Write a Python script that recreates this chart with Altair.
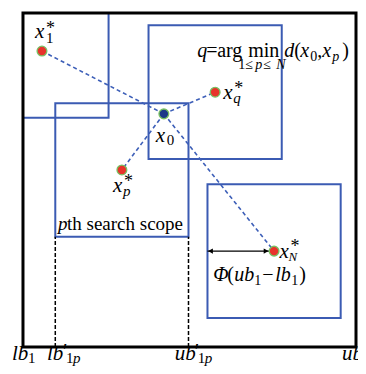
import altair as alt
import pandas as pd

# ---------------- data (diagram units: search space lb1=0 .. ub1=100) ----------------
lb1, ub1 = 0.0, 100.0
phi = 20.0  # half size of each search scope, Φ(ub1 − lb1)

pt_names = ["x0", "x1", "xq", "xp", "xN"]
pt_u = [42.3, 5.7, 57.7, 29.7, 75.4]
pt_v = [69.8, 88.6, 76.3, 53.0, 28.7]
pt_role = ["current", "best", "best", "best", "best"]

scope_of = ["x1", "xq", "xp", "xN"]  # search scopes drawn around these points
p_name = "xp"                       # the p-th scope, with projected bounds

# label anchors (left end, baseline) in diagram units
lab_names = ["x1", "x0", "xq", "xp", "xN", "argmin", "scope", "phi",
             "lb1", "lbp", "ubp", "ub1"]
lab_u = [3.6, 39.9, 60.1, 27.0, 77.0, 52.3, 10.5, 57.1, -3.3, 7.2, 45.6, 95.8]
lab_v = [92.5, 61.4, 74.3, 46.4, 26.6, 86.8, 35.0, 19.8, -4.0, -4.0, -4.0, -4.0]

# ---------------- styling ----------------
FONT = "Liberation Serif"
BLUE = "#3b5bb3"
DASH_BLUE = "#3d5fb8"
RED = "#e8332b"
NAVY = "#1b3988"
GREEN = "#78c062"

xs = alt.Scale(domain=[-4.5, 100.6], nice=False, zero=False)
ys = alt.Scale(domain=[-5.7, 101.5], nice=False, zero=False)

pts = pd.DataFrame({"name": pt_names, "u": pt_u, "v": pt_v, "role": pt_role})
P = {n: (u, v) for n, u, v in zip(pt_names, pt_u, pt_v)}
L = {n: (u, v) for n, u, v in zip(lab_names, lab_u, lab_v)}

# boxes (clipped to the search space)
boxes = pd.DataFrame({
    "u": [max(lb1, P[n][0] - phi) for n in scope_of],
    "u2": [min(ub1, P[n][0] + phi) for n in scope_of],
    "v": [max(lb1, P[n][1] - phi) for n in scope_of],
    "v2": [min(ub1, P[n][1] + phi) for n in scope_of],
})
box_layer = alt.Chart(boxes).mark_rect(fillOpacity=0, stroke=BLUE, strokeWidth=2).encode(
    x=alt.X("u:Q", scale=xs, axis=None), x2="u2:Q",
    y=alt.Y("v:Q", scale=ys, axis=None), y2="v2:Q")

# dashed links from x0 to each best point
links = pd.DataFrame({
    "u": [P["x0"][0]] * len(scope_of), "v": [P["x0"][1]] * len(scope_of),
    "u2": [P[n][0] for n in scope_of], "v2": [P[n][1] for n in scope_of]})
link_layer = alt.Chart(links).mark_rule(color=DASH_BLUE, strokeWidth=1.6, strokeDash=[4, 3]).encode(
    x=alt.X("u:Q", scale=xs, axis=None), x2="u2:Q",
    y=alt.Y("v:Q", scale=ys, axis=None), y2="v2:Q")

# outer search space
outer = pd.DataFrame({"u": [lb1], "u2": [ub1], "v": [lb1], "v2": [ub1]})
outer_layer = alt.Chart(outer).mark_rect(fillOpacity=0, stroke="black", strokeWidth=3).encode(
    x=alt.X("u:Q", scale=xs, axis=None), x2="u2:Q",
    y=alt.Y("v:Q", scale=ys, axis=None), y2="v2:Q")

# projected bounds of the p-th scope
pu = P[p_name][0]
pv = P[p_name][1]
proj = pd.DataFrame({"u": [pu - phi, pu + phi], "v": [lb1, lb1], "v2": [pv - phi, pv - phi]})
proj_layer = alt.Chart(proj).mark_rule(color="black", strokeWidth=1.5, strokeDash=[4, 2]).encode(
    x=alt.X("u:Q", scale=xs, axis=None),
    y=alt.Y("v:Q", scale=ys, axis=None), y2="v2:Q")

# double arrow showing Φ(ub1 − lb1)
nu, nv = P["xN"]
arrow = pd.DataFrame({"u": [nu - phi], "u2": [nu - 1.5], "v": [nv]})
arrow_line = alt.Chart(arrow).mark_rule(color="black", strokeWidth=1.3).encode(
    x=alt.X("u:Q", scale=xs, axis=None), x2="u2:Q", y=alt.Y("v:Q", scale=ys, axis=None))
heads = pd.DataFrame({"u": [nu - phi + 0.9, nu - 2.4], "v": [nv, nv],
                      "shape": ["triangle-left", "triangle-right"]})
arrow_heads = alt.Chart(heads).mark_point(filled=True, color="black", size=30, opacity=1).encode(
    x=alt.X("u:Q", scale=xs, axis=None), y=alt.Y("v:Q", scale=ys, axis=None),
    shape=alt.Shape("shape:N", scale=None, legend=None))

# points
point_layer = alt.Chart(pts).mark_circle(size=95, opacity=1, stroke=GREEN, strokeWidth=1.3).encode(
    x=alt.X("u:Q", scale=xs, axis=None), y=alt.Y("v:Q", scale=ys, axis=None),
    color=alt.Color("role:N", scale=alt.Scale(domain=["current", "best"], range=[NAVY, RED]), legend=None))


def math(name, parts):
    u, v = L[name]
    out = []
    for text, dx, dy, size, italic in parts:
        df = pd.DataFrame({"u": [u], "v": [v], "t": [text]})
        kw = dict(align="left", baseline="alphabetic", dx=dx, dy=dy, fontSize=size,
                  font=FONT, color="black")
        if italic:
            kw["fontStyle"] = "italic"
        out.append(alt.Chart(df).mark_text(**kw).encode(
            x=alt.X("u:Q", scale=xs, axis=None), y=alt.Y("v:Q", scale=ys, axis=None), text="t:N"))
    return out


texts = []
texts += math("x1", [("x", 0, 0, 21, True), ("1", 11, 5, 15, False), ("*", 11, -4, 18, False)])
texts += math("x0", [("x", 0, 0, 21, True), ("0", 11, 3, 15, False)])
texts += math("xq", [("x", 0, 0, 21, True), ("q", 10, 4, 15, True), ("*", 11, -5, 18, False)])
texts += math("xp", [("x", 0, 0, 21, True), ("p", 10, 4, 15, True), ("*", 11, -5, 18, False)])
texts += math("xN", [("x", 0, 0, 21, True), ("N", 9, 3, 13, True), ("*", 11, -6, 18, False)])
texts += math("argmin", [
    ("q", 0, 0, 20, True), ("=", 9, 0, 20, False), ("arg", 20, 0, 20, False),
    ("min", 51, 0, 20, False), ("d", 87, 0, 20, True), ("(", 97, 0, 20, False),
    ("x", 103, 0, 20, True), ("0", 113, 4, 14, False), (",", 120, 0, 20, False),
    ("x", 125, 0, 20, True), ("p", 135, 4, 14, True), (")", 145, 0, 20, False),
    ("1", 41, 12, 14, False), ("≤", 48, 12, 14, False), ("p", 58, 12, 14, True),
    ("≤", 66, 12, 14, False), ("N", 79, 12, 14, True)])
texts += math("scope", [("p", 0, 0, 19, True), ("th search scope", 9, 0, 19, False)])
texts += math("phi", [
    ("Φ", 0, 0, 20, True), ("(", 14, 0, 20, False), ("ub", 21, 0, 20, True),
    ("1", 41, 4, 14, False), ("−", 49, 0, 20, False), ("lb", 62, 0, 20, True),
    ("1", 78, 4, 14, False), (")", 86, 0, 20, False)])
texts += math("lb1", [("lb", 0, 0, 21, True), ("1", 16, 3, 15, False)])
texts += math("lbp", [("lb", 0, 0, 21, True), ("′", 16, -2, 20, False),
                      ("1", 19, 3, 15, False), ("p", 26, 3, 15, True)])
texts += math("ubp", [("ub", 0, 0, 21, True), ("′", 20, -2, 20, False),
                      ("1", 23, 3, 15, False), ("p", 30, 3, 15, True)])
texts += math("ub1", [("ub", 0, 0, 21, True), ("1", 21, 3, 15, False)])

chart = alt.layer(
    box_layer, link_layer, proj_layer, outer_layer, arrow_line, arrow_heads, point_layer, *texts
).properties(
    width=350, height=358, autosize=alt.AutoSizeParams(type="none"), padding=0,
    background="white"
).configure_view(stroke=None)

chart.save("out.html", embed_options={"renderer": "svg", "actions": False})
